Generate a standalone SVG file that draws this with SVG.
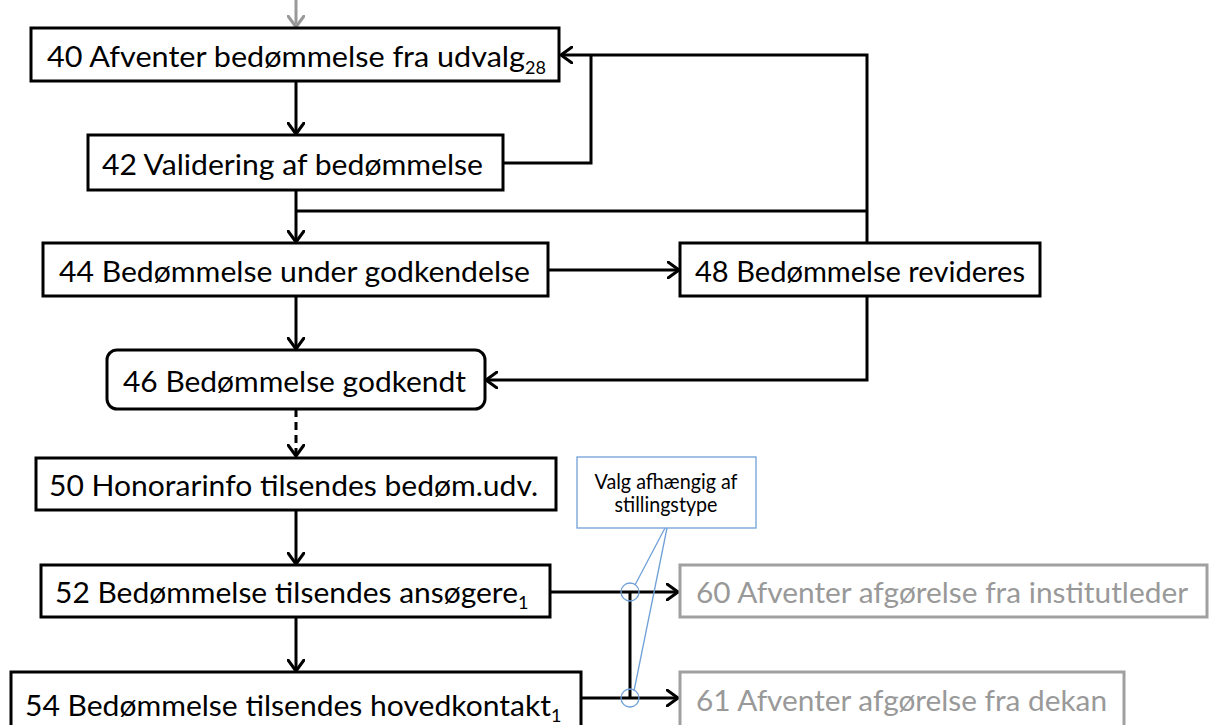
<svg xmlns="http://www.w3.org/2000/svg" width="1209" height="725" viewBox="0 0 1209 725">
<defs>
<style>
.box{fill:#fff;stroke:#000;stroke-width:3}
.gbox{fill:#fff;stroke:#a0a0a0;stroke-width:3}
.t{font-family:Lato,"Liberation Sans",sans-serif;font-size:29px;fill:#000}
.gt{font-family:Lato,"Liberation Sans",sans-serif;font-size:29px;fill:#999}
.sub{font-size:18px}
.ct{font-family:Lato,"Liberation Sans",sans-serif;font-size:21px;fill:#000;text-anchor:middle}
.c{fill:none;stroke:#000;stroke-width:3}
.call{fill:none;stroke:#6fa0d8;stroke-width:1.3}
</style>
<marker id="ah" markerUnits="userSpaceOnUse" viewBox="0 0 13 18" refX="12" refY="9" markerWidth="13" markerHeight="18" orient="auto">
<path d="M1,1 L12,9 L1,17" fill="none" stroke="#000" stroke-width="3" stroke-linejoin="round" stroke-linecap="round"/>
</marker>
<marker id="ahg" markerUnits="userSpaceOnUse" viewBox="0 0 13 18" refX="12" refY="9" markerWidth="13" markerHeight="18" orient="auto">
<path d="M1,1 L12,9 L1,17" fill="none" stroke="#999" stroke-width="3" stroke-linejoin="round" stroke-linecap="round"/>
</marker>
</defs>

<g id="connectors">
<path d="M296,0 V27" fill="none" stroke="#999" stroke-width="3" marker-end="url(#ahg)"/>
<path class="c" d="M296,81 V134" marker-end="url(#ah)"/>
<path class="c" d="M503,163 H591 V55"/>
<path class="c" d="M867,243 V55 H561" marker-end="url(#ah)"/>
<path class="c" d="M296,190 V242" marker-end="url(#ah)"/>
<path class="c" d="M867,211 H296"/>
<path class="c" d="M548,270 H679" marker-end="url(#ah)"/>
<path class="c" d="M296,297 V349" marker-end="url(#ah)"/>
<path class="c" d="M867,296 V380 H486" marker-end="url(#ah)"/>
<path class="c" d="M296,409 V456" stroke-dasharray="8,5" marker-end="url(#ah)"/>
<path class="c" d="M296,511 V564" marker-end="url(#ah)"/>
<path class="c" d="M296,618 V671" marker-end="url(#ah)"/>
<path class="c" d="M550,592 H678" marker-end="url(#ah)"/>
<path class="c" d="M580,698 H678" marker-end="url(#ah)"/>
<path class="c" d="M630,592 V698"/>
</g>

<g id="n40">
<rect class="box" x="31" y="28" width="528" height="53"/>
<text class="t" x="47" y="67"><tspan textLength="478" lengthAdjust="spacingAndGlyphs">40 Afventer bedømmelse fra udvalg</tspan><tspan class="sub" dy="7">28</tspan></text>
</g>
<g id="n42">
<rect class="box" x="88" y="135" width="415" height="55"/>
<text class="t" x="102" y="175" textLength="381" lengthAdjust="spacingAndGlyphs">42 Validering af bedømmelse</text>
</g>
<g id="n44">
<rect class="box" x="43" y="243" width="505" height="53"/>
<text class="t" x="59" y="282" textLength="471" lengthAdjust="spacingAndGlyphs">44 Bedømmelse under godkendelse</text>
</g>
<g id="n48">
<rect class="box" x="680" y="243" width="360" height="53"/>
<text class="t" x="695" y="282" textLength="330" lengthAdjust="spacingAndGlyphs">48 Bedømmelse revideres</text>
</g>
<g id="n46">
<rect class="box" x="107" y="350" width="378" height="59" rx="10" ry="10"/>
<text class="t" x="123" y="392" textLength="343" lengthAdjust="spacingAndGlyphs">46 Bedømmelse godkendt</text>
</g>
<g id="n50">
<rect class="box" x="36" y="458" width="520" height="52"/>
<text class="t" x="49" y="496" textLength="489" lengthAdjust="spacingAndGlyphs">50 Honorarinfo tilsendes bedøm.udv.</text>
</g>
<g id="n52">
<rect class="box" x="41" y="565" width="509" height="52"/>
<text class="t" x="55" y="603"><tspan textLength="463" lengthAdjust="spacingAndGlyphs">52 Bedømmelse tilsendes ansøgere</tspan><tspan class="sub" dy="6">1</tspan></text>
</g>
<g id="n54">
<rect class="box" x="11" y="672" width="570" height="66"/>
<text class="t" x="25" y="716"><tspan textLength="526" lengthAdjust="spacingAndGlyphs">54 Bedømmelse tilsendes hovedkontakt</tspan><tspan class="sub" dy="6">1</tspan></text>
</g>
<g id="n60">
<rect class="gbox" x="680" y="565" width="527" height="52"/>
<text class="gt" x="696" y="603" textLength="492" lengthAdjust="spacingAndGlyphs">60 Afventer afgørelse fra institutleder</text>
</g>
<g id="n61">
<rect class="gbox" x="680" y="672" width="444" height="56"/>
<text class="gt" x="696" y="711" textLength="411" lengthAdjust="spacingAndGlyphs">61 Afventer afgørelse fra dekan</text>
</g>
<g id="callout">
<path class="call" d="M665,528 L635,585 M667,528 L634,691"/>
<ellipse class="call" cx="630" cy="592" rx="9" ry="9"/>
<ellipse class="call" cx="630" cy="698" rx="9" ry="9"/>
<rect x="577" y="457" width="179" height="71" fill="#fff" stroke="#6fa0d8" stroke-width="1.3"/>
<text class="ct" x="666" y="489" textLength="143" lengthAdjust="spacingAndGlyphs">Valg afhængig af</text>
<text class="ct" x="666" y="512" textLength="103" lengthAdjust="spacingAndGlyphs">stillingstype</text>
</g>
</svg>
